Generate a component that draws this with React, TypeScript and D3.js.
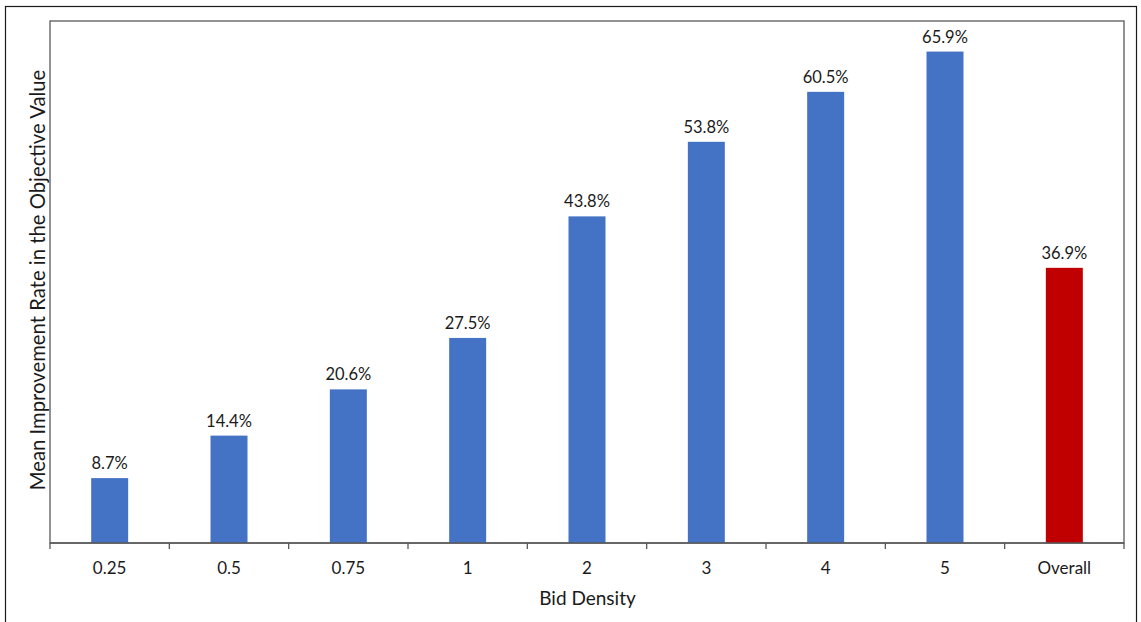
import React from "react";
import * as d3 from "d3";

const categories = ["0.25", "0.5", "0.75", "1", "2", "3", "4", "5", "Overall"];
const improvementRates = [0.087, 0.144, 0.206, 0.275, 0.438, 0.538, 0.605, 0.659, 0.369];
const barColors = ["#4472C4", "#4472C4", "#4472C4", "#4472C4", "#4472C4", "#4472C4", "#4472C4", "#4472C4", "#C00000"];

const W = 1141;
const H = 622;
const plot = { left: 50, top: 21, right: 1124, bottom: 543 };
const FONT = "Lato, 'Open Sans', sans-serif";

export default function App() {
  const x = d3
    .scaleBand<string>()
    .domain(categories)
    .range([plot.left, plot.right])
    .paddingInner(0.69)
    .paddingOuter(0.345);
  const band = d3.scaleBand<string>().domain(categories).range([plot.left, plot.right]);
  const y = d3.scaleLinear().domain([0, 0.7]).range([plot.bottom, plot.top]);
  const fmt = d3.format(".1%");

  const boundaries = [...categories.map((c) => band(c)!), plot.right];

  return (
    <svg
      width={W}
      height={H}
      style={{ position: "absolute", left: 0, top: 0, background: "#fff" }}
      fontFamily={FONT}
    >
      {/* outer chart frame */}
      <rect x={5.5} y={6.5} width={1131} height={H + 10} fill="none" stroke="#1a1a1a" strokeWidth={1.2} />

      {/* plot area box */}
      <rect
        x={plot.left}
        y={plot.top}
        width={plot.right - plot.left}
        height={plot.bottom - plot.top}
        fill="none"
        stroke="#595959"
        strokeWidth={1.3}
      />

      {/* bars */}
      {categories.map((c, i) => (
        <rect
          key={c}
          x={x(c)}
          y={y(improvementRates[i])}
          width={x.bandwidth()}
          height={y(0) - y(improvementRates[i])}
          fill={barColors[i]}
        />
      ))}

      {/* value labels */}
      {categories.map((c, i) => (
        <text
          key={"v" + c}
          x={x(c)! + x.bandwidth() / 2}
          y={y(improvementRates[i]) - 9}
          textAnchor="middle"
          fontSize={16.5}
          fill="#1a1a1a"
        >
          {fmt(improvementRates[i])}
        </text>
      ))}

      {/* x axis line and ticks */}
      <line x1={plot.left} x2={plot.right} y1={plot.bottom} y2={plot.bottom} stroke="#595959" strokeWidth={1.5} />
      {boundaries.map((bx, i) => (
        <line key={"t" + i} x1={bx} x2={bx} y1={plot.bottom} y2={plot.bottom + 6} stroke="#595959" strokeWidth={1.3} />
      ))}

      {/* tick labels */}
      {categories.map((c) => (
        <text
          key={"l" + c}
          x={band(c)! + band.bandwidth() / 2}
          y={574}
          textAnchor="middle"
          fontSize={17}
          fill="#1a1a1a"
        >
          {c}
        </text>
      ))}

      {/* axis titles */}
      <text x={587.5} y={605} textAnchor="middle" fontSize={19} fill="#1a1a1a">
        Bid Density
      </text>
      <text
        transform={`translate(45, 280) rotate(-90)`}
        textAnchor="middle"
        fontSize={20.3}
        fill="#1a1a1a"
      >
        Mean Improvement Rate in the Objective Value
      </text>
    </svg>
  );
}
